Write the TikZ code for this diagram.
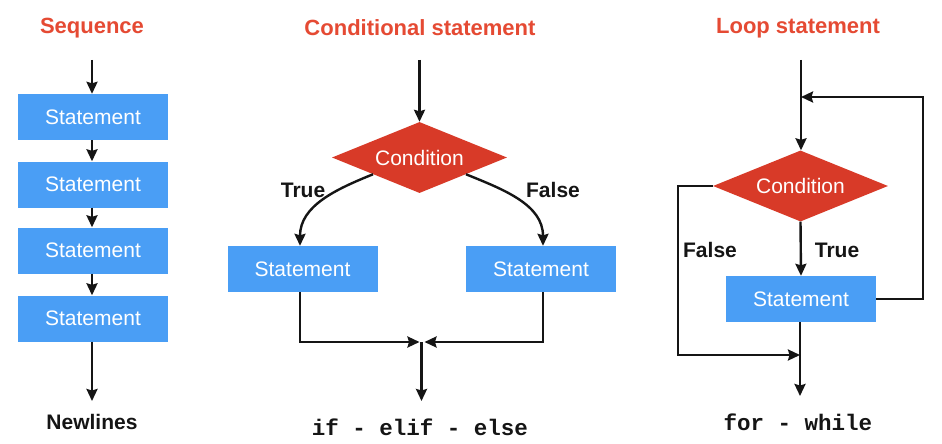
\documentclass[tikz,border=0pt]{standalone}
\usepackage{fontspec}
\setmainfont{Liberation Sans}
\setmonofont{Liberation Mono}
\usetikzlibrary{arrows.meta,shapes.geometric,calc}
\definecolor{boxblue}{HTML}{4A9EF5}
\definecolor{diared}{HTML}{D83A28}
\definecolor{titlered}{HTML}{E54A33}
\definecolor{ink}{HTML}{151515}
\tikzset{
  stmt/.style={fill=boxblue, draw=none, minimum width=150pt, minimum height=46pt, inner sep=0pt,
    text=white, font=\fontsize{21}{24}\selectfont},
  cond/.style={diamond, fill=diared, draw=none, minimum width=175pt, minimum height=71pt, aspect=2.46,
    inner sep=0pt, text=white, font=\fontsize{21}{24}\selectfont},
  title/.style={text=titlered, font=\bfseries\fontsize{22}{26}\selectfont},
  lbl/.style={text=ink, font=\bfseries\fontsize{21}{24}\selectfont},
  code/.style={text=ink, font=\ttfamily\bfseries\fontsize{22.5}{26}\selectfont},
  conn/.style={draw=ink, line width=2.4pt},
  arr/.style={conn, -{Stealth[length=12pt,width=11pt,inset=1.5pt]}}
}
\begin{document}
\begin{tikzpicture}[x=1pt,y=1pt]
\useasboundingbox (0,0) rectangle (942,-444);
\fill[white] (0,0) rectangle (942,-444);

% ---------- Sequence ----------
\node[title] (t1) at (92,-28) {Sequence};
\coordinate (s0) at (92,-60);
\node[stmt] (s1) at (93,-117) {Statement};
\node[stmt] (s2) at (93,-184.5) {Statement};
\node[stmt] (s3) at (93,-250.5) {Statement};
\node[stmt] (s4) at (93,-318.5) {Statement};
\node[lbl] (nl) at (92,-422) {Newlines};
\coordinate (s5) at (92,-401);
\draw[arr] (s0) -- (s0 |- s1.north);
\draw[arr] (s1.south -| s0) -- (s0 |- s2.north);
\draw[arr] (s2.south -| s0) -- (s0 |- s3.north);
\draw[arr] (s3.south -| s0) -- (s0 |- s4.north);
\draw[arr] (s4.south -| s0) -- (s5);

% ---------- Conditional ----------
\node[title] (t2) at (420,-28) {Conditional statement};
\coordinate (c0) at (419.5,-60);
\node[cond] (c1) at (419.5,-157.5) {Condition};
\node[stmt] (cl) at (302.5,-269) {Statement};
\node[stmt] (cr) at (541,-269) {Statement};
\node[lbl] (ctrue) at (303,-190) {True};
\node[lbl] (cfalse) at (553,-190) {False};
\coordinate (cls) at ($(c1.west)!0.47!(c1.south)$);
\coordinate (crs) at ($(c1.east)!0.47!(c1.south)$);
\coordinate (clx) at (300,0);
\coordinate (crx) at (543,0);
\coordinate (merge) at (421.5,-342);
\coordinate (cend) at (421.5,-401);
\node[code] (ccode) at (420,-427) {if - elif - else};
\draw[arr] (c0) -- (c1.north);
\draw[arr] (cls) to[out=202,in=90] (clx |- cl.north);
\draw[arr] (crs) to[out=-22,in=90] (crx |- cr.north);
\draw[arr] (clx |- cl.south) -- (clx |- merge) -- ([xshift=-2pt]merge);
\draw[arr] (crx |- cr.south) -- (crx |- merge) -- ([xshift=3pt]merge);
\draw[arr] (merge) -- (cend);

% ---------- Loop ----------
\node[title] (t3) at (798,-28) {Loop statement};
\coordinate (l0) at (801,-60);
\node[cond] (l1) at (800.5,-186) {Condition};
\node[stmt] (ls) at (801,-299) {Statement};
\node[lbl] (ltrue) at (837,-250) {True};
\node[lbl] (lfalse) at (710,-250) {False};
\coordinate (lback) at (923,-97);
\coordinate (lfx) at (678,-355);
\coordinate (lm) at (800,-355);
\coordinate (lend) at (800,-396);
\node[code] (lcode) at (798,-422) {for - while};
\draw[arr] (l0) -- (l0 |- l1.north);
\draw[arr] (ls.east) -- (lback |- ls.east) -- (lback) -- (l0 |- lback);
\draw[arr] (l1.south) -- (ls.north);
\draw[arr] (l1.west) -- (lfx |- l1.west) -- (lfx) -- (lm);
\draw[arr] (ls.south -| lm) -- (lend);
\end{tikzpicture}
\end{document}
